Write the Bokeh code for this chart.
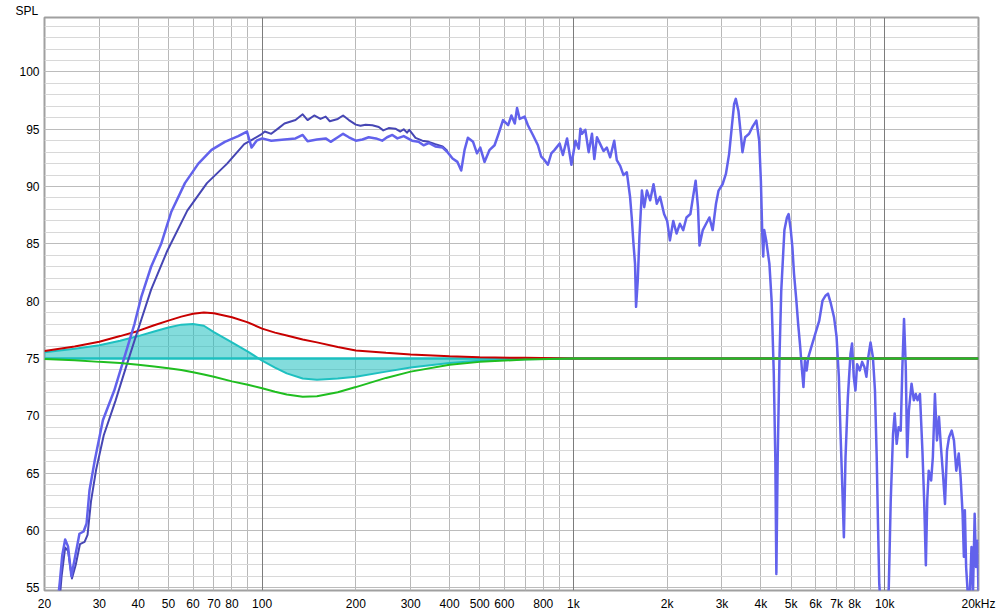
from bokeh.plotting import figure
from bokeh.models import FixedTicker, Grid, Span
from bokeh.embed import file_html
from bokeh.resources import INLINE

# ---------------- data ----------------
x_ticks = [20, 30, 40, 50, 60, 70, 80, 100, 200, 300, 400, 500, 600, 800,
           1000, 2000, 3000, 4000, 5000, 6000, 7000, 8000, 10000, 20000]
x_tick_labels = ["20", "30", "40", "50", "60", "70", "80", "100", "200", "300",
                 "400", "500", "600", "800", "1k", "2k", "3k", "4k", "5k", "6k",
                 "7k", "8k", "10k", "20kHz"]
y_ticks = [55, 60, 65, 70, 75, 80, 85, 90, 95, 100]

# measurement trace A (lighter, full range)
a_freq = [22.0, 22.4, 22.8, 23.3, 23.8, 24.4, 25.0, 25.9, 26.7, 27.3, 27.9, 29.0,
          30.8, 33.5, 36.1, 38.9, 40.9, 44.0, 47.4, 51.1, 56.5, 62.4, 68.8, 75.9,
          83.8, 89.4, 92.5, 96, 100, 107, 118, 128, 135, 140, 150, 160, 166, 175,
          182, 190, 200, 210, 220, 232, 243, 252, 262, 272, 285, 303, 318, 330,
          343, 360, 380, 394, 409, 424, 436, 447, 458, 476, 490, 502, 518, 538,
          558, 573, 594, 617, 632, 648, 659, 672, 697, 714, 741, 769, 788, 808,
          828, 849, 870, 903, 925, 954, 985, 1015, 1040, 1053, 1066, 1092, 1119,
          1147, 1167, 1190, 1219, 1249, 1280, 1312, 1352, 1378, 1413, 1448, 1484,
          1520, 1539, 1558, 1577, 1589, 1609, 1629, 1659, 1688, 1722, 1764, 1808,
          1852, 1898, 1955, 2000, 2041, 2092, 2144, 2197, 2252, 2307, 2375, 2422,
          2469, 2512, 2540, 2603, 2667, 2733, 2800, 2870, 2925, 3013, 3088, 3163,
          3226, 3281, 3322, 3388, 3447, 3490, 3560, 3666, 3757, 3869, 3950, 4000,
          4040, 4070, 4100, 4160, 4260, 4330, 4400, 4450, 4485, 4530, 4590, 4650,
          4760, 4850, 4910, 4990, 5050, 5110, 5200, 5270, 5350, 5410, 5480, 5540,
          5610, 5680, 5810, 5980, 6160, 6310, 6460, 6570, 6710, 6870, 7000, 7120,
          7210, 7310, 7390, 7480, 7610, 7760, 7850, 7950, 8050, 8150, 8310, 8460,
          8600, 8730, 8850, 9000, 9160, 9300, 9420, 9510, 9600, 9800, 10100, 10300,
          10450, 10630, 10760, 10920, 11080, 11250, 11390, 11530, 11680, 11800,
          11950, 12190, 12400, 12580, 12740, 12970, 13210, 13380, 13550, 13690,
          13840, 14090, 14270, 14490, 14710, 14930, 15150, 15380, 15610, 15840,
          16080, 16400, 16680, 16970, 17280, 17520, 17780, 17950, 18080, 18250,
          18470, 18700, 18990, 19200, 19440, 19640, 19840, 20000]
a_db = [53.5, 55.5, 57.8, 59.2, 58.6, 56.0, 57.5, 59.7, 59.9, 60.6, 63.5, 66.1,
        69.6, 72.2, 75.1, 78.0, 80.35, 83.0, 85.0, 87.8, 90.3, 92.0, 93.2, 93.9,
        94.4, 94.8, 93.4, 94.0, 94.2, 94.0, 94.1, 94.2, 94.5, 93.95, 94.1, 94.2, 93.9, 94.3,
        94.6, 94.3, 94.0, 94.1, 94.3, 94.2, 94.0, 94.3, 94.5, 94.2, 94.4, 94.0, 93.9, 93.6,
        93.8, 93.5, 93.4, 93.0, 92.45, 92.15, 91.4, 93.2, 94.25, 93.9, 92.9, 93.4, 92.15, 93.2,
        93.6, 94.5, 95.8, 95.35, 96.2, 95.5, 96.85, 95.9, 96.1, 95.35, 94.5, 93.6, 92.6, 92.3,
        91.9, 92.9, 93.2, 93.75, 92.75, 94.2, 91.9, 94.0, 93.3, 95.05, 94.6, 94.95, 93.0,
        94.6, 92.4, 94.3, 93.7, 93.1, 93.4, 92.55, 94.0, 92.3, 91.8, 91.0, 91.25,
        89.1, 87.3, 85.1, 83.25, 79.5, 81.8, 85.6, 89.65, 88.2, 89.65, 88.8, 90.2,
        88.5, 89.1, 87.6, 87.0, 85.3, 87.0, 85.9, 86.75, 86.2, 87.3, 87.6, 89.1,
        90.5, 88.2, 84.85, 86.2, 86.75, 87.3, 86.2, 88.5, 89.65, 90.2, 91.1, 92.85,
        95.2, 97.2, 97.65, 96.6, 94.6, 93.0, 94.3, 94.6, 95.2, 95.75, 94.0, 90.5,
        86.0, 83.9, 86.2, 85.3, 83.25, 80.05, 73.7, 66.4, 56.2, 66.4, 75.1, 80.9,
        86.2, 87.3, 87.6, 86.2, 84.7, 82.4, 80.05, 78.0, 76.0, 74.25, 72.5, 74.8,
        73.95, 75.1, 76.0, 77.15, 78.3, 80.05, 80.5, 80.65, 79.8, 78.6, 76.9, 73.4,
        68.4, 63.5, 59.4, 66.4, 71.6, 75.4, 76.3, 73.4, 72.2, 74.5, 73.95, 74.7,
        74.25, 73.4, 75.1, 76.4, 75.1, 72.2, 66.4, 60.6, 55.3, 52.0, 52.0, 55.0,
        62.6, 68.4, 70.2, 67.55, 69.0, 68.7, 74.25, 78.45, 74.25, 66.4,
        70.45, 72.8, 71.35, 71.9, 71.35, 71.9, 66.95, 62.6, 56.95, 62.6,
        65.2, 64.35, 66.4, 71.9, 67.85, 69.9, 67.25, 64.9, 62.3, 66.95,
        68.1, 68.7, 67.85, 65.2, 66.7, 64.65, 61.45, 57.7, 61.75, 56.8,
        54.5, 53.5, 58.55, 54.5, 61.45, 56.8, 59.1, 54.5]

# measurement trace B (darker, low range)
b_freq = [22.3, 22.7, 23.3, 23.8, 24.5, 25.2, 26.0, 26.9, 27.5, 28.2, 29.3, 31.0,
          33.8, 36.5, 39.6, 44.0, 49.6, 57.5, 66.5, 77.2, 87.6, 93, 100, 102, 107,
          113, 118, 128, 135, 140, 147, 154, 160, 165, 175, 182, 190, 200, 207,
          215, 226, 237, 245, 255, 268, 278, 285, 292, 297, 311, 327, 343, 360,
          380, 394]
b_db = [53.5, 56.0, 58.5, 58.2, 55.8, 57.0, 58.8, 59.0, 59.6, 62.5, 65.3, 68.3,
        71.3, 74.2, 77.2, 81.0, 84.4, 87.9, 90.3, 92.0, 93.7, 94.1, 94.6, 94.8, 94.6,
        95.1, 95.5, 95.8, 96.3, 95.8, 96.2, 95.9, 96.1, 95.7, 95.9, 96.2, 95.8, 95.4, 95.3,
        95.4, 95.35, 95.2, 94.9, 95.1, 95.05, 94.8, 95.0, 94.7, 94.95, 94.25, 94.0, 93.9, 93.7,
        93.5, 93.1]

# EQ filter curves
eq_freq = [20, 25, 30, 35, 40, 45, 50, 55, 60, 65, 70, 80, 90, 100, 110, 120,
           135, 150, 175, 200, 250, 300, 400, 500, 700, 1000, 20000]
boost_db = [75.65, 76.05, 76.45, 76.95, 77.4, 77.9, 78.3, 78.65, 78.9, 79.0, 78.95,
            78.6, 78.15, 77.6, 77.25, 77.0, 76.65, 76.4, 76.0, 75.7, 75.5, 75.35,
            75.2, 75.1, 75.05, 75.0, 75.0]
cut_db = [74.95, 74.85, 74.7, 74.6, 74.45, 74.3, 74.15, 74.0, 73.8, 73.6, 73.4,
          73.0, 72.7, 72.4, 72.1, 71.85, 71.65, 71.7, 72.05, 72.5, 73.3, 73.85,
          74.45, 74.7, 74.9, 75.0, 75.0]
sum_db = [75.55, 75.85, 76.15, 76.55, 76.95, 77.35, 77.7, 77.95, 78.0, 77.85, 77.3,
          76.4, 75.6, 74.8, 74.2, 73.7, 73.25, 73.15, 73.25, 73.4, 73.85, 74.2,
          74.6, 74.8, 74.93, 75.0, 75.0]
ref_level = 75

minor_x = [30, 40, 50, 60, 70, 80, 90, 200, 300, 400, 500, 600, 700, 800, 900,
           2000, 3000, 4000, 5000, 6000, 7000, 8000, 9000]
decades = [100, 1000, 10000]

# ---------------- figure ----------------
FONT = "Liberation Sans"
p = figure(x_axis_type="log", x_range=(20, 20000), y_range=(54.75, 104.75),
           frame_width=934, frame_height=573,
           min_border_left=44, min_border_right=22, min_border_top=17, min_border_bottom=24,
           output_backend="svg", toolbar_location=None,
           title="SPL", title_location="above")
p.background_fill_color = "white"
p.border_fill_color = "white"
p.outline_line_color = "#a0a0a0"
p.outline_line_width = 2

p.title.align = "left"
p.title.offset = -29
p.title.standoff = 0
p.title.text_font = FONT
p.title.text_font_size = "12px"
p.title.text_font_style = "normal"
p.title.text_color = "#000000"

for ax in (p.xaxis[0], p.yaxis[0]):
    ax.axis_line_color = None
    ax.major_tick_line_color = None
    ax.minor_tick_line_color = None
    ax.major_tick_out = 0
    ax.major_tick_in = 0
    ax.minor_tick_out = 0
    ax.major_label_text_font = FONT
    ax.major_label_text_font_size = "12px"
    ax.major_label_text_color = "#000000"

p.xaxis[0].ticker = FixedTicker(ticks=x_ticks)
p.xaxis[0].major_label_overrides = {float(t): l for t, l in zip(x_ticks, x_tick_labels)}
p.xaxis[0].major_label_standoff = 6
p.yaxis[0].ticker = FixedTicker(ticks=y_ticks)
p.yaxis[0].major_label_standoff = 5

p.xgrid[0].ticker = FixedTicker(ticks=minor_x)
p.xgrid[0].grid_line_color = "#b8b8b8"
p.ygrid[0].ticker = FixedTicker(ticks=list(range(55, 105)))
p.ygrid[0].grid_line_color = "#d8d8d8"
p.add_layout(Grid(dimension=1, ticker=FixedTicker(ticks=y_ticks), grid_line_color="#bcbcbc"))
p.add_layout(Grid(dimension=0, ticker=FixedTicker(ticks=decades), grid_line_color="#7c7c7c"))

# EQ sum baseline, area and curves
p.add_layout(Span(location=ref_level, dimension="width", line_color="#1ec0c0",
                  line_width=2.5, level="underlay"))
p.varea(x=eq_freq, y1=sum_db, y2=ref_level, fill_color="#1ec0c0", fill_alpha=0.55)
p.line(eq_freq, sum_db, line_color="#1ec0c0", line_width=2)
p.line(eq_freq, boost_db, line_color="#c80000", line_width=2)

# measurement traces
p.line(b_freq, b_db, line_color="#4646b4", line_width=2, line_join="round")
p.line(a_freq, a_db, line_color="#6262ec", line_width=2.5, line_join="round")

p.line(eq_freq, cut_db, line_color="#20be20", line_width=2)

open("out.html", "w").write(file_html(p, INLINE))
